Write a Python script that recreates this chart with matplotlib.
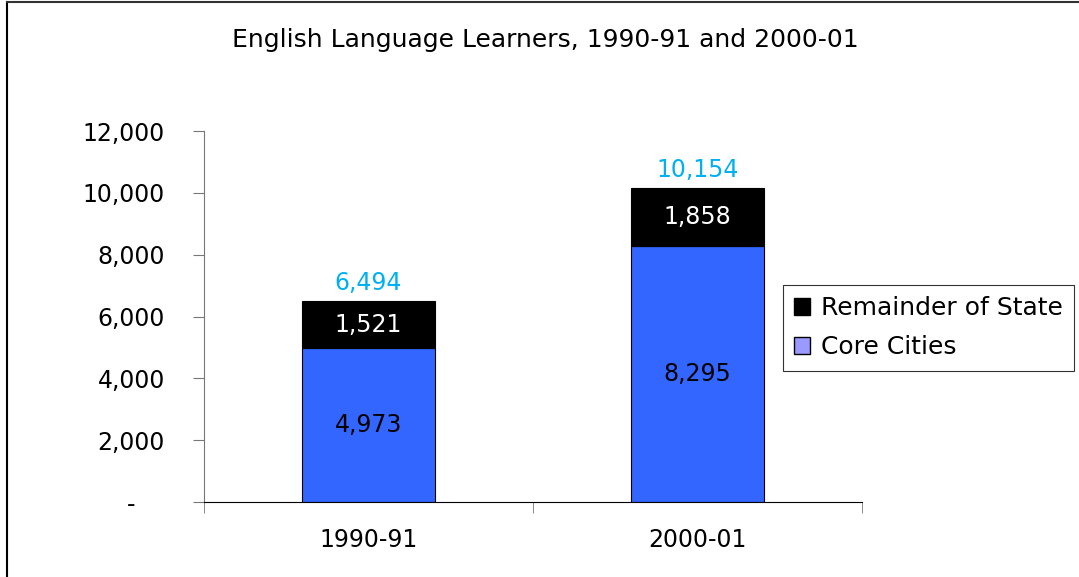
import matplotlib.pyplot as plt
from matplotlib.patches import Patch
from matplotlib.lines import Line2D

plt.rcParams['font.family'] = ['DejaVu Sans']

years = ['1990-91', '2000-01']
core_cities = [4973, 8295]
remainder = [1521, 1858]
totals = [6494, 10154]
y_ticks = [0, 2000, 4000, 6000, 8000, 10000, 12000]
y_labels = ['-    ', '2,000', '4,000', '6,000', '8,000', '10,000', '12,000']

fs = 17

fig = plt.figure(figsize=(10.79, 5.77), dpi=100)
ax = fig.add_axes([204/1079, 1 - 502/577, 658/1079, 371/577])

x = list(range(len(years)))
w = 0.405
ax.bar(x, core_cities, width=w, color='#3366FF', edgecolor='black', linewidth=0.8)
ax.bar(x, remainder, width=w, bottom=core_cities, color='black', edgecolor='black', linewidth=0.8)

for i in x:
    ax.text(i, core_cities[i] / 2, f'{core_cities[i]:,}', ha='center', va='center',
            fontsize=fs, color='black')
    ax.text(i, core_cities[i] + remainder[i] / 2, f'{remainder[i]:,}', ha='center', va='center',
            fontsize=fs, color='white')
    ax.text(i, totals[i] + 580, f'{totals[i]:,}', ha='center', va='center',
            fontsize=fs, color='#00B0F0')

ax.set_xlim(-0.5, 1.5)
ax.set_ylim(0, 12000)
ax.set_yticks(y_ticks)
ax.set_yticklabels(y_labels, fontsize=fs)
ax.set_xticks(x)
ax.set_xticklabels(years, fontsize=fs)
ax.set_xticks([-0.5, 0.5, 1.5], minor=True)
ax.tick_params(axis='x', which='major', length=0, pad=19)
ax.tick_params(axis='x', which='minor', length=8, direction='out', color='#777777')
ax.tick_params(axis='y', length=8, direction='out', color='#777777', pad=20)
for s in ['top', 'right']:
    ax.spines[s].set_visible(False)
ax.spines['left'].set_color('#777777')
ax.spines['bottom'].set_color('black')

handles = [Patch(facecolor='black', edgecolor='black', label='Remainder of State'),
           Patch(facecolor='#9999FF', edgecolor='black', label='Core Cities')]
leg = fig.legend(handles=handles, loc='upper left', bbox_to_anchor=(783/1079, 1 - 285/577),
                 fontsize=18, frameon=True, fancybox=False, edgecolor='black',
                 handlelength=0.64, handleheight=0.64, handletextpad=0.44,
                 borderpad=0.45, labelspacing=0.6, borderaxespad=0)
leg.get_frame().set_linewidth(0.8)

fig.text(545/1079, 1 - 40/577, 'English Language Learners, 1990-91 and 2000-01',
         ha='center', va='center', fontsize=18)

# figure border (top and left only)
fig.add_artist(Line2D([7/1079, 7/1079], [0, 1 - 1.5/577], color='black', linewidth=1.5,
                      transform=fig.transFigure))
fig.add_artist(Line2D([7/1079, 1], [1 - 1.5/577, 1 - 1.5/577], color='#333333', linewidth=1.5,
                      transform=fig.transFigure))

fig.savefig('out.png', dpi=100)
